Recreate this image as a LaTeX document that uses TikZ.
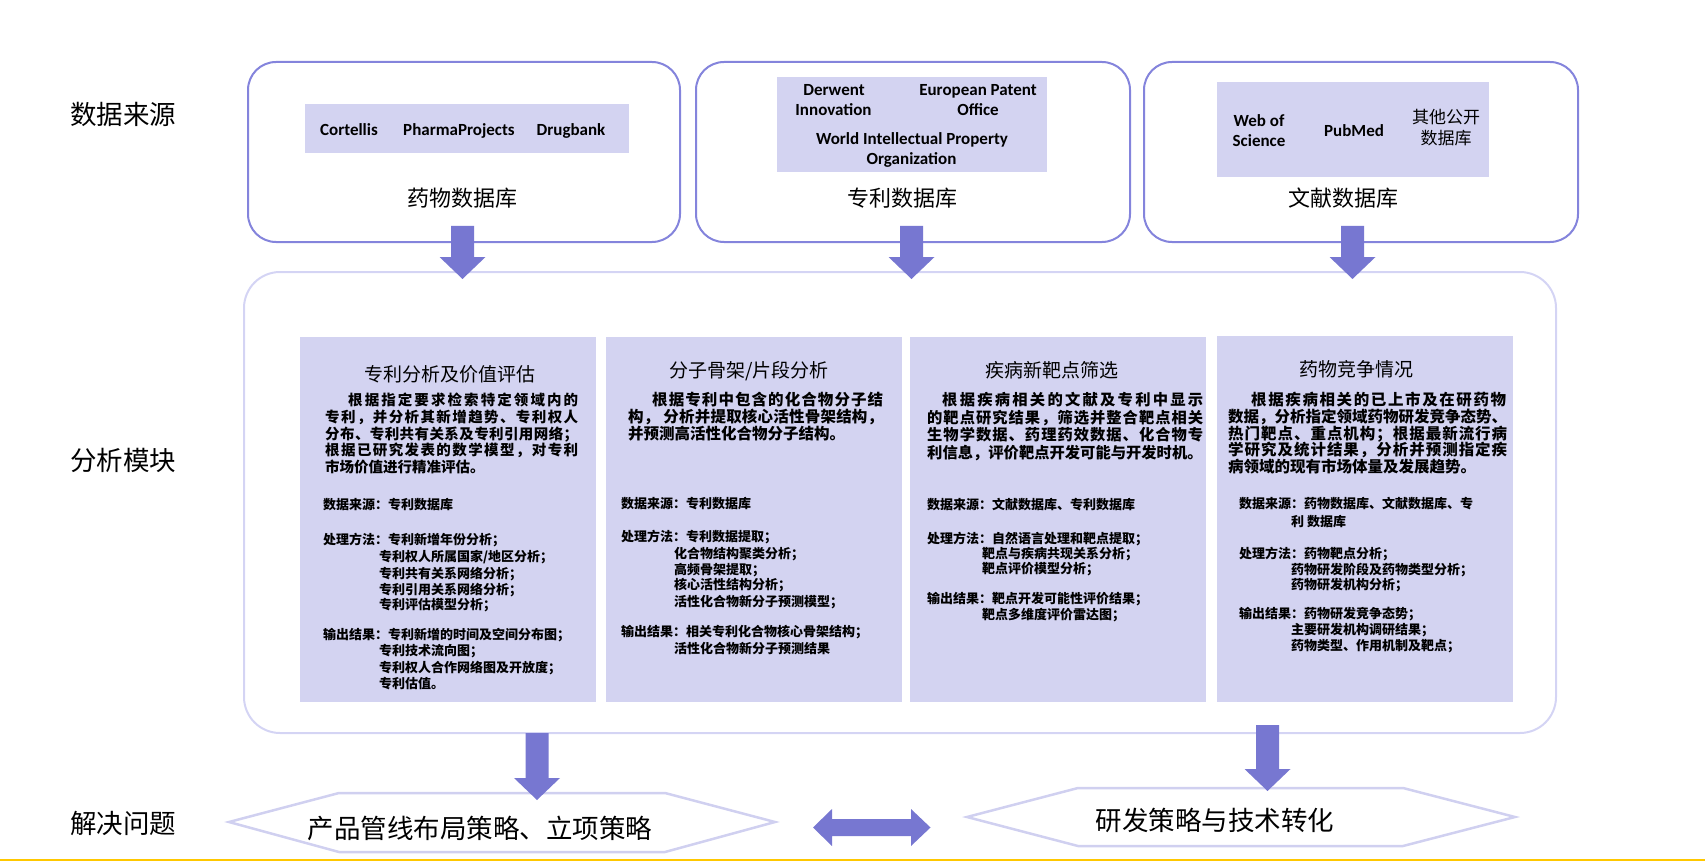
\documentclass[tikz,border=0pt]{standalone}
\usepackage{fontspec}
\usetikzlibrary{calc}
\newfontfamily\cjk{Noto Sans CJK SC}
\newfontfamily\enf{Carlito}
\definecolor{arrowc}{HTML}{7777D1}
\definecolor{boxc}{HTML}{8484DC}
\definecolor{panelc}{HTML}{D3D3F1}
\definecolor{bigc}{HTML}{D4D4F4}
\definecolor{hexc}{HTML}{D0D0F0}
\definecolor{linec}{HTML}{FFC800}
\def\jfirst#1{#1\jrest}
\def\jrest#1{\ifx\relax#1\else\hskip 0pt plus 1fil#1\expandafter\jrest\fi}
\newcommand\jl[2]{\makebox[#1pt][s]{\jfirst#2\relax}}
\newcommand\blkdown[2]{\fill[arrowc] ($(#1)+(-11.5,0)$) -- ($(#1)+(11.5,0)$) -- ($(#2)+(11.5,-22)$) -- ($(#2)+(23,-22)$) -- (#2) -- ($(#2)+(-23,-22)$) -- ($(#2)+(-11.5,-22)$) -- cycle;}
\begin{document}
\begin{tikzpicture}[x=1pt,y=-1pt,
  srcbox/.style={draw=boxc, line width=2pt, rounded corners=28pt, fill=white, inner sep=0, minimum height=180pt},
  inbox/.style={fill=panelc, inner sep=0},
  panel/.style={fill=panelc, inner sep=0, minimum width=296pt},
  en/.style={font=\enf\bfseries\fontsize{17}{17}\selectfont, anchor=base, inner sep=0},
  cjks/.style={font=\cjk\fontsize{17}{17}\selectfont, anchor=base, inner sep=0},
  dblabel/.style={font=\cjk\fontsize{22}{22}\selectfont, anchor=base, inner sep=0},
  sidelabel/.style={font=\cjk\fontsize{26.5}{26.5}\selectfont, anchor=base west, inner sep=0},
  hextext/.style={font=\cjk\fontsize{26.5}{26.5}\selectfont, anchor=base, inner sep=0},
  title/.style={font=\cjk\fontsize{19}{19}\selectfont, anchor=base, inner sep=0},
  body/.style={font=\cjk\bfseries\fontsize{#1}{#1}\selectfont, anchor=base west, inner sep=0},
  small/.style={font=\cjk\bfseries\fontsize{13}{13}\selectfont, anchor=base west, inner sep=0},
  hexline/.style={draw=hexc, line width=2.5pt, line join=miter}
]
\path[use as bounding box] (0,0) rectangle (1705,861);

% side labels
\node[sidelabel] (lab1) at (70,125) {数据来源};
\node[sidelabel] (lab2) at (70,470) {分析模块};
\node[sidelabel] (lab3) at (70,833) {解决问题};

% source boxes
\node[srcbox, minimum width=432pt] (src1) at (464,152) {};
\node[srcbox, minimum width=434pt] (src2) at (913,152) {};
\node[srcbox, minimum width=434pt] (src3) at (1361,152) {};

\node[inbox, minimum width=324pt, minimum height=49pt] (in1) at (467,128.5) {};
\node[inbox, minimum width=270pt, minimum height=95pt] (in2) at (912,124.5) {};
\node[inbox, minimum width=272pt, minimum height=95pt] (in3) at (1353,129.5) {};

\node[en] (t11) at (349,136) {Cortellis};
\node[en] (t12) at (459,136) {PharmaProjects};
\node[en] (t13) at (571,136) {Drugbank};

\node[en] (t21a) at (834,96) {Derwent};
\node[en] (t21b) at (833.5,116) {Innovation};
\node[en] (t22a) at (978,96) {European Patent};
\node[en] (t22b) at (978,116) {Office};
\node[en] (t23a) at (912,144.5) {World Intellectual Property};
\node[en] (t23b) at (911.5,165) {Organization};

\node[en] (t31a) at (1259,126.5) {Web of};
\node[en] (t31b) at (1259,146.5) {Science};
\node[en] (t32) at (1354,136.5) {PubMed};
\node[cjks] (t33a) at (1446,124) {其他公开};
\node[cjks] (t33b) at (1446,145) {数据库};

\node[dblabel] (db1) at (462,206.4) {药物数据库};
\node[dblabel] (db2) at (902,206.4) {专利数据库};
\node[dblabel] (db3) at (1343,206.4) {文献数据库};

% analysis box
\node[draw=bigc, line width=2pt, rounded corners=36pt, minimum width=1312pt, minimum height=461pt, inner sep=0] (ana) at (900,502.5) {};

\node[panel, minimum height=365pt] (p1) at (448,519.5) {};
\node[panel, minimum height=365pt] (p2) at (754,519.5) {};
\node[panel, minimum height=365pt] (p3) at (1058,519.5) {};
\node[panel, minimum height=366pt] (p4) at (1365,519) {};

% arrows from sources
\coordinate (a1s) at (462.5,226); \coordinate (a1e) at (462.5,279);
\coordinate (a2s) at (911.5,226); \coordinate (a2e) at (911.5,279);
\coordinate (a3s) at (1352.5,226); \coordinate (a3e) at (1352.5,279);
\blkdown{a1s}{a1e}
\blkdown{a2s}{a2e}
\blkdown{a3s}{a3e}

% panel 1
\node[title] (p1t) at (450,381) {专利分析及价值评估};
\node[body=14.5] (p1b1) at (348,405.5) {\jl{230}{根据指定要求检索特定领域内的}};
\node[body=14.5] (p1b2) at (325,422.3) {\jl{253}{专利，并分析其新增趋势、专利权人}};
\node[body=14.5] (p1b3) at (325,439.1) {\jl{253}{分布、专利共有关系及专利引用网络；}};
\node[body=14.5] (p1b4) at (325,455.9) {\jl{253}{根据已研究发表的数学模型，对专利}};
\node[body=14.5] (p1b5) at (325,472.7) {市场价值进行精准评估。};
\node[small] (p1s1) at (323,509.9) {数据来源：专利数据库};
\node[small] (p1s2) at (323,544.9) {处理方法：专利新增年份分析；};
\node[small] (p1s3) at (379,561.6) {专利权人所属国家/地区分析；};
\node[small] (p1s4) at (379,578.2) {专利共有关系网络分析；};
\node[small] (p1s5) at (379,594.9) {专利引用关系网络分析；};
\node[small] (p1s6) at (379,609.9) {专利评估模型分析；};
\node[small] (p1s7) at (323,639.9) {输出结果：专利新增的时间及空间分布图；};
\node[small] (p1s8) at (379,655.9) {专利技术流向图；};
\node[small] (p1s9) at (379,672.6) {专利权人合作网络图及开放度；};
\node[small] (p1s10) at (379,688.2) {专利估值。};

% panel 2
\node[title] (p2t) at (749,377) {分子骨架/片段分析};
\node[body=15.5] (p2b1) at (652,405.9) {\jl{231}{根据专利中包含的化合物分子结}};
\node[body=15.5] (p2b2) at (628,422.7) {\jl{255}{构，~分析并提取核心活性骨架结构，}};
\node[body=15.5] (p2b3) at (628,439.5) {并预测高活性化合物分子结构。};
\node[small] (p2s1) at (621,508.2) {数据来源：专利数据库};
\node[small] (p2s2) at (621,541.6) {处理方法：专利数据提取；};
\node[small] (p2s3) at (674,558.2) {化合物结构聚类分析；};
\node[small] (p2s4) at (674,574.2) {高频骨架提取；};
\node[small] (p2s5) at (674,589.9) {核心活性结构分析；};
\node[small] (p2s6) at (674,606.6) {活性化合物新分子预测模型；};
\node[small] (p2s7) at (621,636.6) {输出结果：相关专利化合物核心骨架结构；};
\node[small] (p2s8) at (674,653.2) {活性化合物新分子预测结果};

% panel 3
\node[title] (p3t) at (1052,377) {疾病新靶点筛选};
\node[body=15.3] (p3b1) at (942,405.8) {\jl{261}{根据疾病相关的文献及专利中显示}};
\node[body=15.3] (p3b2) at (927,423.3) {\jl{276}{的靶点研究结果，筛选并整合靶点相关}};
\node[body=15.3] (p3b3) at (927,440.8) {\jl{276}{生物学数据、药理药效数据、化合物专}};
\node[body=15.3] (p3b4) at (927,458.3) {利信息，评价靶点开发可能与开发时机。};
\node[small] (p3s1) at (927,509.2) {数据来源：文献数据库、专利数据库};
\node[small] (p3s2) at (927,543.2) {处理方法：自然语言处理和靶点提取；};
\node[small] (p3s3) at (982,558.2) {靶点与疾病共现关系分析；};
\node[small] (p3s4) at (982,573.2) {靶点评价模型分析；};
\node[small] (p3s5) at (927,603.2) {输出结果：靶点开发可能性评价结果；};
\node[small] (p3s6) at (982,619.9) {靶点多维度评价雷达图；};

% panel 4
\node[title] (p4t) at (1356,376) {药物竞争情况};
\node[body=15.5] (p4b1) at (1251,405.9) {\jl{255}{根据疾病相关的已上市及在研药物}};
\node[body=15.5] (p4b2) at (1228,422.6) {\jl{279}{数据，分析指定领域药物研发竞争态势、}};
\node[body=15.5] (p4b3) at (1228,439.2) {\jl{279}{热门靶点、重点机构；根据最新流行病}};
\node[body=15.5] (p4b4) at (1228,455.9) {\jl{279}{学研究及统计结果，分析并预测指定疾}};
\node[body=15.5] (p4b5) at (1228,472.6) {病领域的现有市场体量及发展趋势。};
\node[small] (p4s1) at (1239,508.2) {数据来源：药物数据库、文献数据库、专};
\node[small] (p4s2) at (1291,526.6) {利 数据库};
\node[small] (p4s3) at (1239,558.2) {处理方法：药物靶点分析；};
\node[small] (p4s4) at (1291,574.9) {药物研发阶段及药物类型分析；};
\node[small] (p4s5) at (1291,589.9) {药物研发机构分析；};
\node[small] (p4s6) at (1239,618.2) {输出结果：药物研发竞争态势；};
\node[small] (p4s7) at (1291,634.9) {主要研发机构调研结果；};
\node[small] (p4s8) at (1291,650.6) {药物类型、作用机制及靶点；};

% solution hexagons
\draw[hexline] (229,822) -- (339,793) -- (665,793) -- (775,822) -- (665,852) -- (339,852) -- cycle;
\draw[hexline] (967,817) -- (1078,788) -- (1403,788) -- (1515,817) -- (1403,846) -- (1078,846) -- cycle;
\node[hextext] (sol1) at (480,838) {产品管线布局策略、立项策略};
\node[hextext] (sol2) at (1215,830) {研发策略与技术转化};

% arrows to solutions
\coordinate (a4s) at (537,733); \coordinate (a4e) at (537,800);
\coordinate (a5s) at (1267.5,725); \coordinate (a5e) at (1267.5,791);
\blkdown{a4s}{a4e}
\blkdown{a5s}{a5e}

% double arrow
\coordinate (dA) at (813,827.5);
\coordinate (dB) at (930.5,827.5);
\fill[arrowc] (dA) -- ($(dA)+(19,-18.5)$) -- ($(dA)+(19,-8.5)$) -- ($(dB)+(-19.5,-8.5)$) -- ($(dB)+(-19.5,-18.5)$) -- (dB) -- ($(dB)+(-19.5,18.5)$) -- ($(dB)+(-19.5,8.5)$) -- ($(dA)+(19,8.5)$) -- ($(dA)+(19,18.5)$) -- cycle;

% bottom rule
\draw[linec, line width=1.4pt] (0,860) -- (1705,860);
\end{tikzpicture}
\end{document}
